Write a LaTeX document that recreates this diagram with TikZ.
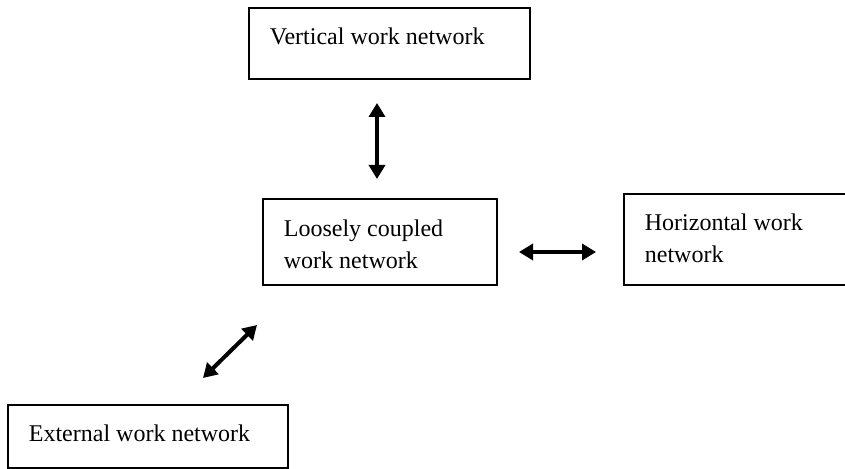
\documentclass[tikz,border=0pt]{standalone}
\usepackage{fontspec}
\setmainfont{Liberation Serif}
\usepackage{tikz}
\usetikzlibrary{calc}
\usetikzlibrary{arrows.meta}

\begin{document}
\begin{tikzpicture} [x=.5pt, y=-.5pt, netbox/.style={draw, line width=.9pt, inner sep=0, anchor=north west}, nettext/.style={anchor=base west, inner sep=0, align=left, font=\fontsize{12}{16}\selectfont}, link/.style={line width=2pt, {Triangle[length=7pt,width=8pt]}-{Triangle[length=7pt,width=8pt]}}]
\path[use as bounding box, clip] (0,0) rectangle (845,469);

\foreach \name/\x/\y/\w/\h/\dy/\txt in {vertical/248/7/281/71/38/{Vertical work network}, loose/262/198/234/86/71/{Loosely coupled\\work network}, horizontal/623/193/260/91/70/{Horizontal work\\network}, external/7/404/280/63/38/{External work network}}
{
\node[netbox, minimum width=\w*.5pt, minimum height=\h*.5pt] (\name) at (\x,\y) {};
\node[nettext] (\name-text) at ($ (\name.north west) +(21.5,\dy) $) {\txt};
}

\coordinate (vtop) at (377,103);
\coordinate (vbot) at (377,179);
\coordinate (hleft) at (519,252);
\coordinate (hright) at (596,252);
\coordinate (dlow) at (203,378);
\coordinate (dhigh) at (257,325);

\draw[link] (vtop) -- (vbot);
\draw[link] (hleft) -- (hright);
\draw[link] (dlow) -- (dhigh);

\end{tikzpicture}
\end{document}
